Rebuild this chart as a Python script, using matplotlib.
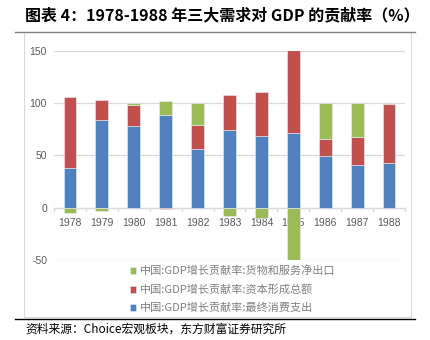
import numpy as np
import matplotlib.pyplot as plt
from matplotlib.lines import Line2D
from matplotlib.patches import Rectangle

plt.rcParams['font.family'] = ['Noto Sans CJK SC', 'DejaVu Sans']

years = ['1978', '1979', '1980', '1981', '1982', '1983', '1984', '1985', '1986', '1987', '1988']
consumption = [38.3, 83.3, 77.6, 88.7, 55.8, 74.3, 68.6, 71.5, 49.8, 41.2, 43.1]
capital = [67.1, 19.5, 20.4, -1.6, 23.3, 33.6, 41.5, 79.2, 15.9, 26.1, 56.1]
net_export = [-5.4, -2.8, 2.0, 12.8, 20.9, -7.9, -10.1, -50.7, 34.3, 32.7, 0.8]

names = ['中国:GDP增长贡献率:最终消费支出',
         '中国:GDP增长贡献率:资本形成总额',
         '中国:GDP增长贡献率:货物和服务净出口']
colors = ['#4F81BD', '#C0504D', '#9BBB59']

fig = plt.figure(figsize=(4.31, 3.40), dpi=100)
ax = fig.add_axes([0.1253, 0.2353, 0.8144, 0.6157])

x = np.arange(len(years))
pos = np.zeros(len(years))
neg = np.zeros(len(years))
handles = []
for vals, c, name in zip([consumption, capital, net_export], colors, names):
    v = np.array(vals)
    bottom = np.where(v >= 0, pos, neg)
    h = ax.bar(x, v, 0.4, bottom=bottom, color=c, edgecolor='#E8EEF6',
               linewidth=0.4, label=name, zorder=3)
    handles.append(h)
    pos = pos + np.where(v >= 0, v, 0)
    neg = neg + np.where(v < 0, v, 0)

ax.set_xlim(-0.5, 10.5)
ax.set_ylim(-50, 150)
ax.set_yticks([-50, 0, 50, 100, 150])
ax.set_yticklabels(['-50', '0', '50', '100', '150'])
ax.grid(axis='y', color='#D9D9D9', linewidth=0.9, zorder=0)
ax.axhline(0, color='#D9D9D9', linewidth=0.9, zorder=2)
for s in ax.spines.values():
    s.set_visible(False)

# year labels under the zero line, drawn behind the bars
ax.set_xticks(x)
ax.set_xticklabels([])
ax.tick_params(axis='x', length=0)
for i, yr in enumerate(years):
    ax.text(i, -10, yr, ha='center', va='top', fontsize=7.5, color='#595959',
            family=['Liberation Sans'], zorder=1)
for b in np.arange(-0.5, 11, 1):
    ax.plot([b, b], [0, -2.8], color='#D9D9D9', linewidth=0.9, zorder=2,
            clip_on=False)
ax.tick_params(axis='y', length=0, pad=5, labelsize=7.5, labelcolor='#595959')
for lab in ax.get_yticklabels():
    lab.set_family(['Liberation Sans'])

fig.legend(handles[::-1], names[::-1], loc='upper left',
           bbox_to_anchor=(0.302, 0.219), frameon=False, fontsize=8,
           labelcolor='#7F7F7F', handlelength=0.55, handleheight=0.55,
           handletextpad=0.35, labelspacing=0.72, borderaxespad=0,
           borderpad=0)

fig.text(25 / 431, 1 - 15 / 340, '图表 4：1978-1988 年三大需求对 GDP 的贡献率（%）',
         fontsize=11.5, fontweight='bold', ha='left', va='center', color='black')
fig.add_artist(Line2D([15 / 431, 415 / 431], [1 - 32 / 340, 1 - 32 / 340],
                      color='#808080', linewidth=1.0))
fig.add_artist(Rectangle((24 / 431, 1 - 317 / 340), 387 / 431, 285 / 340,
                         fill=False, edgecolor='#D9D9D9', linewidth=0.8))
fig.add_artist(Line2D([15 / 431, 415 / 431], [1 - 319 / 340, 1 - 319 / 340],
                      color='black', linewidth=1.0))
fig.text(25 / 431, 1 - 329 / 340, '资料来源：Choice宏观板块，东方财富证券研究所',
         fontsize=8.5, ha='left', va='center', color='black')

fig.savefig('out.png', dpi=100)
